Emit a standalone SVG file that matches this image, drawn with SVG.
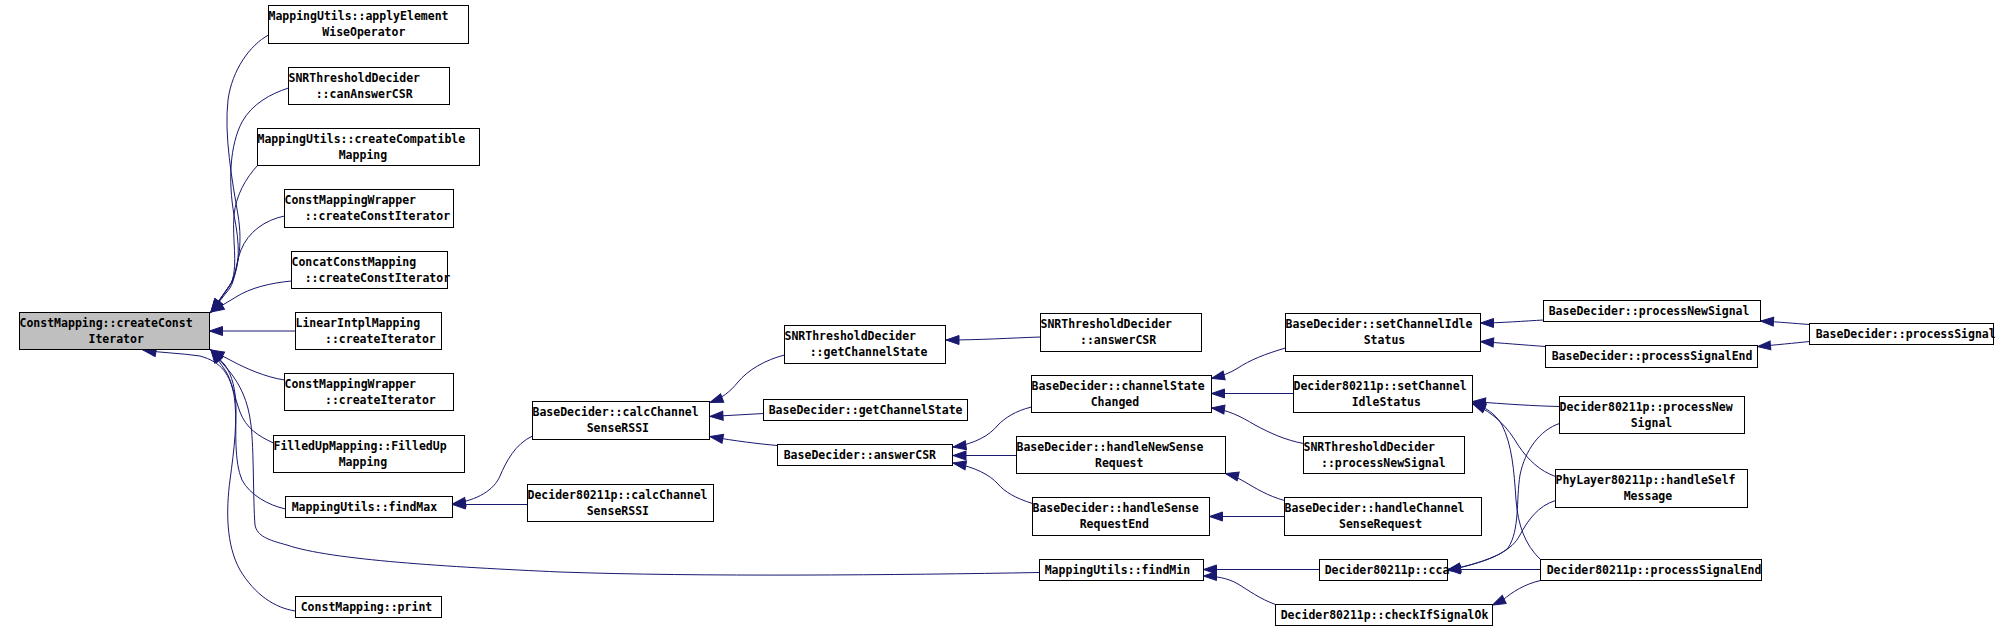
<svg xmlns="http://www.w3.org/2000/svg" width="2009" height="632" viewBox="0 0 2009 632">
<style>
.n rect{fill:#ffffff;stroke:#000000;stroke-width:1}
.n.main rect{fill:#bfbfbf}
.n text{font-family:"DejaVu Sans Mono","Liberation Mono",monospace;font-weight:bold;font-size:11.5px;fill:#000000}
#edges path{fill:none;stroke:#191970;stroke-width:1;marker-end:url(#arr)}
</style>
<defs>
<marker id="arr" markerUnits="userSpaceOnUse" markerWidth="14" markerHeight="10" refX="13" refY="4.5" orient="auto" overflow="visible">
<path d="M0,0 L13,4.5 L0,9 z" fill="#191970" stroke="#191970" stroke-width="1"/>
</marker>
</defs>
<rect x="0" y="0" width="2009" height="632" fill="#ffffff"/>
<g id="edges">
<path d="M268.5,35 C250,45 232,70 228,100 C224,135 232,180 238,215 C243,245 238,270 229,287 L211,312"/>
<path d="M288.5,88 C270,94 252,104 242,122 C230,145 228,180 234,215 C240,245 240,265 232,282 L211,312"/>
<path d="M257.5,165.5 C246,178 236,195 234,215 C232,240 238,262 232,282 L211,312"/>
<path d="M284.5,216 C265,220 248,232 241,250 C235,265 236,278 230,288 L211,312"/>
<path d="M291.5,281 C270,283 250,288 236,297 L211,312"/>
<path d="M295.5,331 L209.5,331"/>
<path d="M284.5,380 C265,377 245,368 232,361 L211,350"/>
<path d="M273.5,443 C258,436 246,428 240,412 C234,396 232,380 225,370 L211,350"/>
<path d="M285.5,509 C268,505 250,495 242,480 C234,462 236,430 236,410 C236,390 232,375 225,365 L211,350"/>
<path d="M1039.5,572.5 C900,575 700,577 560,572 C450,567 330,560 287,545 C268,540 257,536 255,525 C253,500 254,450 251,425 C248,400 240,385 230,372 L211,350"/>
<path d="M295.5,611 C275,608 255,595 240,570 C226,545 226,510 230,480 C234,450 238,420 234,395 C230,375 222,362 200,356 C180,353 162,353 143,350"/>
<path d="M532.5,436 C515,444 506,462 500,476 C494,490 478,500 452.5,504"/>
<path d="M527.5,504.5 L452.5,504.5"/>
<path d="M784.5,355 C765,360 748,370 738,382 C730,392 722,398 710,402.5"/>
<path d="M763.5,413.5 L710,416.5"/>
<path d="M777.5,445.5 C760,444 735,441 710,436.5"/>
<path d="M1040.5,337 C1010,338 980,340 946,340"/>
<path d="M1031.5,407 C1015,411 1005,418 998,425 C990,435 975,444 953,447"/>
<path d="M1016.5,455.5 L953,455.5"/>
<path d="M1032.5,503.5 C1015,498 1005,492 998,484 C990,475 975,467 953,463"/>
<path d="M1285.5,348 C1265,354 1250,360 1238,368 C1230,373 1222,376 1211.5,378.5"/>
<path d="M1293.5,393.5 L1211.5,393.5"/>
<path d="M1303.5,443.5 C1285,440 1270,433 1255,425 C1240,416 1228,410 1211.5,408"/>
<path d="M1284.5,500.5 C1268,496 1255,488 1245,482 C1238,478 1232,475 1225.5,473.5"/>
<path d="M1284.5,516.5 L1209.5,516.5"/>
<path d="M1319.5,569.5 L1203.5,569.5"/>
<path d="M1275.5,604.5 C1260,599 1248,590 1238,584 C1228,578 1215,576 1203.5,576"/>
<path d="M1543.5,320 C1525,321 1500,323 1480.5,323"/>
<path d="M1545.5,346.5 C1525,345 1500,343 1480.5,341.5"/>
<path d="M1809.5,324.5 C1795,323.5 1780,322 1760.5,321"/>
<path d="M1809.5,341.5 C1795,343 1775,345 1757.5,346.5"/>
<path d="M1559.5,406.5 C1535,406 1505,404 1472.5,401.5"/>
<path d="M1555.5,476.5 C1540,471 1528,460 1518,445 C1508,428 1495,413 1472.5,403.5"/>
<path d="M1540.5,559.5 C1525,545 1518,525 1516,500 C1514,470 1512,445 1502,425 C1495,413 1485,407 1472.5,403"/>
<path d="M1559.5,423.5 C1540,430 1525,450 1520,475 C1516,500 1520,530 1508,548 C1498,558 1470,566 1447.5,570"/>
<path d="M1555.5,500.5 C1538,506 1528,520 1520,535 C1512,550 1495,560 1447.5,570.5"/>
<path d="M1540.5,569.5 L1447.5,569.5"/>
<path d="M1540.5,580.5 C1525,584 1512,592 1503,600 L1492.5,605"/>
</g>
<g id="n1" class="n main"><rect x="19.5" y="312.5" width="190" height="37"/><text x="19.5" y="326.5">ConstMapping::createConst</text><text x="88.5" y="342.5">Iterator</text></g>
<g id="n2" class="n"><rect x="268.5" y="5.5" width="200" height="38"/><text x="268.5" y="19.5">MappingUtils::applyElement</text><text x="322.3" y="35.5">WiseOperator</text></g>
<g id="n3" class="n"><rect x="288.5" y="67.5" width="161" height="37"/><text x="288.5" y="81.5">SNRThresholdDecider</text><text x="315.7" y="97.5">::canAnswerCSR</text></g>
<g id="n4" class="n"><rect x="257.5" y="128.5" width="222" height="37"/><text x="257.5" y="142.5">MappingUtils::createCompatible</text><text x="338.7" y="158.5">Mapping</text></g>
<g id="n5" class="n"><rect x="284.5" y="189.5" width="169" height="38"/><text x="284.5" y="203.5">ConstMappingWrapper</text><text x="304.7" y="219.5">::createConstIterator</text></g>
<g id="n6" class="n"><rect x="291.5" y="251.5" width="156" height="37"/><text x="291.5" y="265.5">ConcatConstMapping</text><text x="304.7" y="281.5">::createConstIterator</text></g>
<g id="n7" class="n"><rect x="295.5" y="312.5" width="146" height="37"/><text x="295.5" y="326.5">LinearIntplMapping</text><text x="325" y="342.5">::createIterator</text></g>
<g id="n8" class="n"><rect x="284.5" y="373.5" width="169" height="37"/><text x="284.5" y="387.5">ConstMappingWrapper</text><text x="325" y="403.5">::createIterator</text></g>
<g id="n9" class="n"><rect x="273.5" y="435.5" width="191" height="37"/><text x="273.5" y="449.5">FilledUpMapping::FilledUp</text><text x="338.7" y="465.5">Mapping</text></g>
<g id="n10" class="n"><rect x="285.5" y="496.5" width="167" height="21"/><text x="291.7" y="510.5">MappingUtils::findMax</text></g>
<g id="n11" class="n"><rect x="295.5" y="596.5" width="146" height="21"/><text x="300.7" y="610.5">ConstMapping::print</text></g>
<g id="n12" class="n"><rect x="532.5" y="401.5" width="177" height="38"/><text x="532.5" y="415.5">BaseDecider::calcChannel</text><text x="586.7" y="431.5">SenseRSSI</text></g>
<g id="n13" class="n"><rect x="527.5" y="484.5" width="186" height="37"/><text x="527.5" y="498.5">Decider80211p::calcChannel</text><text x="586.7" y="514.5">SenseRSSI</text></g>
<g id="n14" class="n"><rect x="784.5" y="325.5" width="161" height="38"/><text x="784.5" y="339.5">SNRThresholdDecider</text><text x="809.7" y="355.5">::getChannelState</text></g>
<g id="n15" class="n"><rect x="763.5" y="399.5" width="204" height="21"/><text x="768.7" y="413.5">BaseDecider::getChannelState</text></g>
<g id="n16" class="n"><rect x="777.5" y="444.5" width="175" height="21"/><text x="783.7" y="458.5">BaseDecider::answerCSR</text></g>
<g id="n17" class="n"><rect x="1039.5" y="559.5" width="164" height="21"/><text x="1044.7" y="573.5">MappingUtils::findMin</text></g>
<g id="n18" class="n"><rect x="1040.5" y="313.5" width="161" height="38"/><text x="1040.5" y="327.5">SNRThresholdDecider</text><text x="1080" y="343.5">::answerCSR</text></g>
<g id="n19" class="n"><rect x="1031.5" y="375.5" width="180" height="37"/><text x="1031.5" y="389.5">BaseDecider::channelState</text><text x="1090.7" y="405.5">Changed</text></g>
<g id="n20" class="n"><rect x="1016.5" y="436.5" width="209" height="37"/><text x="1016.5" y="450.5">BaseDecider::handleNewSense</text><text x="1095" y="466.5">Request</text></g>
<g id="n21" class="n"><rect x="1032.5" y="497.5" width="177" height="38"/><text x="1032.5" y="511.5">BaseDecider::handleSense</text><text x="1079.7" y="527.5">RequestEnd</text></g>
<g id="n22" class="n"><rect x="1319.5" y="559.5" width="128" height="21"/><text x="1324.7" y="573.5">Decider80211p::cca</text></g>
<g id="n23" class="n"><rect x="1275.5" y="604.5" width="217" height="21"/><text x="1280.7" y="618.5">Decider80211p::checkIfSignalOk</text></g>
<g id="n24" class="n"><rect x="1285.5" y="313.5" width="195" height="38"/><text x="1285.5" y="327.5">BaseDecider::setChannelIdle</text><text x="1363.7" y="343.5">Status</text></g>
<g id="n25" class="n"><rect x="1293.5" y="375.5" width="179" height="37"/><text x="1293.5" y="389.5">Decider80211p::setChannel</text><text x="1351.7" y="405.5">IdleStatus</text></g>
<g id="n26" class="n"><rect x="1303.5" y="436.5" width="161" height="37"/><text x="1303.5" y="450.5">SNRThresholdDecider</text><text x="1321" y="466.5">::processNewSignal</text></g>
<g id="n27" class="n"><rect x="1284.5" y="497.5" width="197" height="38"/><text x="1284.5" y="511.5">BaseDecider::handleChannel</text><text x="1339" y="527.5">SenseRequest</text></g>
<g id="n28" class="n"><rect x="1543.5" y="300.5" width="217" height="21"/><text x="1548.7" y="314.5">BaseDecider::processNewSignal</text></g>
<g id="n29" class="n"><rect x="1545.5" y="345.5" width="212" height="22"/><text x="1551.7" y="359.5">BaseDecider::processSignalEnd</text></g>
<g id="n30" class="n"><rect x="1559.5" y="396.5" width="185" height="37"/><text x="1559.5" y="410.5">Decider80211p::processNew</text><text x="1630.7" y="426.5">Signal</text></g>
<g id="n31" class="n"><rect x="1555.5" y="469.5" width="192" height="38"/><text x="1555.5" y="483.5">PhyLayer80211p::handleSelf</text><text x="1623.7" y="499.5">Message</text></g>
<g id="n32" class="n"><rect x="1540.5" y="559.5" width="221" height="21"/><text x="1546.7" y="573.5">Decider80211p::processSignalEnd</text></g>
<g id="n33" class="n"><rect x="1809.5" y="323.5" width="184" height="21"/><text x="1815.7" y="337.5">BaseDecider::processSignal</text></g>
</svg>
